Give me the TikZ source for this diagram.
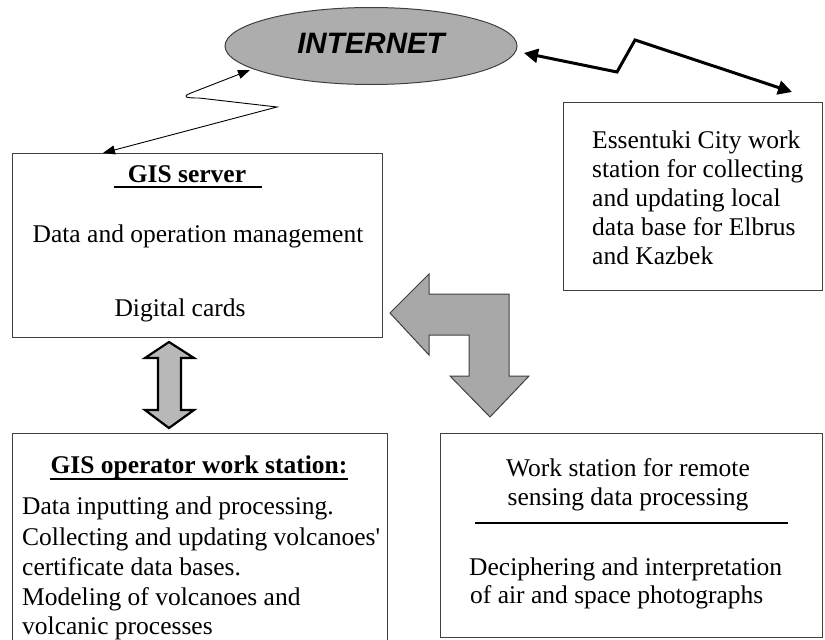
\documentclass[tikz,border=0pt]{standalone}
\usepackage{fontspec}
\setmainfont{Liberation Serif}[Ligatures=TeXOff]
\newfontfamily\inetfont{Liberation Sans}
\usetikzlibrary{arrows.meta,shapes.geometric}

\definecolor{framegray}{gray}{0.25}
\definecolor{inetgray}{gray}{0.68}
\definecolor{bentgray}{gray}{0.66}
\definecolor{dblgray}{gray}{0.72}

\begin{document}
\begin{tikzpicture}[x=1pt,y=-1pt,
  frame/.style={draw=framegray, line width=1.2pt, inner sep=0pt, anchor=north west},
  body/.style={font=\fontsize{25.5}{30}\selectfont, inner sep=0pt},
  bodyc/.style={body, anchor=base},
  bodyl/.style={body, anchor=base west},
  head/.style={bodyc, font=\fontsize{25.5}{30}\selectfont\bfseries},
  rule/.style={line width=1.3pt},
  thinlink/.style={line width=0.9pt, {Triangle[length=12pt,width=9pt]}-{Triangle[length=12pt,width=9pt]}},
  thicklink/.style={line width=3pt, {Triangle[length=14pt,width=14pt]}-{Triangle[length=14pt,width=14pt]}},
  bentarrow/.style={fill=bentgray, draw=framegray, line width=1pt, line join=miter},
  dblarrow/.style={fill=dblgray, draw=black, line width=2.2pt, line join=miter}
]
\useasboundingbox (0,0) rectangle (825,640);

% ---- INTERNET cloud ----
\node[ellipse, draw=framegray, fill=inetgray, line width=1pt,
      minimum width=292pt, minimum height=77pt, inner sep=0pt] (inet) at (371,46) {};
\node[anchor=base, inner sep=0pt, font=\inetfont\fontsize{29.5}{32}\selectfont\bfseries\itshape]
      (inettext) at (371,53) {INTERNET};

% ---- GIS server ----
\node[frame, minimum width=370pt, minimum height=184pt] (server) at (12,153) {};
\node[head] (serverhead) at (187,182) {GIS server};
\draw[rule] ([xshift=-14pt,yshift=-5pt]serverhead.base west) -- ([xshift=16pt,yshift=-5pt]serverhead.base east);
\node[bodyc] (servermgmt) at (198,242) {Data and operation management};
\node[bodyc] (servercards) at (180,316) {Digital cards};

% ---- Essentuki work station ----
\node[frame, minimum width=259pt, minimum height=188pt] (essentuki) at (563,102) {};
\node[bodyl] (ess1) at (592,148) {Essentuki City work};
\node[bodyl] (ess2) at (592,177) {station for collecting};
\node[bodyl] (ess3) at (592,206) {and updating local};
\node[bodyl] (ess4) at (592,235) {data base for Elbrus};
\node[bodyl] (ess5) at (592,264) {and Kazbek};

% ---- GIS operator work station ----
\node[frame, minimum width=375pt, minimum height=215pt] (operator) at (12,433) {};
\node[head] (ophead) at (199,473) {GIS operator work station:};
\draw[rule] ([yshift=-6pt]ophead.base west) -- ([yshift=-6pt]ophead.base east);
\node[bodyl] (op1) at (22,514) {Data inputting and processing.};
\node[bodyl] (op2) at (22,545) {Collecting and updating volcanoes'};
\node[bodyl] (op3) at (22,575) {certificate data bases.};
\node[bodyl] (op4) at (22,605) {Modeling of volcanoes and};
\node[bodyl] (op5) at (22,634) {volcanic processes};

% ---- remote sensing work station ----
\node[frame, minimum width=382pt, minimum height=204pt] (remote) at (440,433) {};
\node[bodyc] (rs1) at (628,476) {Work station for remote};
\node[bodyc] (rs2) at (628,505) {sensing data processing};
\coordinate (sepL) at (475,523);
\coordinate (sepR) at (788,523);
\draw[rule] (sepL) -- (sepR);
\node[bodyl] (rs3) at (469,575) {Deciphering and interpretation};
\node[bodyl] (rs4) at (470,603) {of air and space photographs};

% ---- zigzag link: INTERNET <-> GIS server ----
\coordinate (zA) at (250,70);
\coordinate (zB) at (191,93);
\coordinate (zC) at (199,98);
\coordinate (zD) at (277,107);
\coordinate (zE) at (103,153);
\draw[thinlink] (zA) -- (zB) .. controls (181,97) and (186,98) .. (zC) -- (zD) -- (zE);

% ---- zigzag link: INTERNET <-> Essentuki ----
\coordinate (yA) at (524,53);
\coordinate (yB) at (617,72);
\coordinate (yC) at (635,40);
\coordinate (yD) at (792,92);
\draw[thicklink] (yA) -- (yB) -- (yC) -- (yD);

% ---- bent block arrow ----
\draw[bentarrow] (390,313) -- (429,274) -- (429,294) -- (509,294) -- (509,376)
   -- (529,376) -- (490,417) -- (450,376) -- (469,376) -- (469,335)
   -- (429,335) -- (429,355) -- cycle;

% ---- double block arrow ----
\draw[dblarrow] (169,342) -- (194,358) -- (181,358) -- (181,410) -- (194,410)
   -- (169,428) -- (145,410) -- (158,410) -- (158,358) -- (145,358) -- cycle;

\end{tikzpicture}
\end{document}
